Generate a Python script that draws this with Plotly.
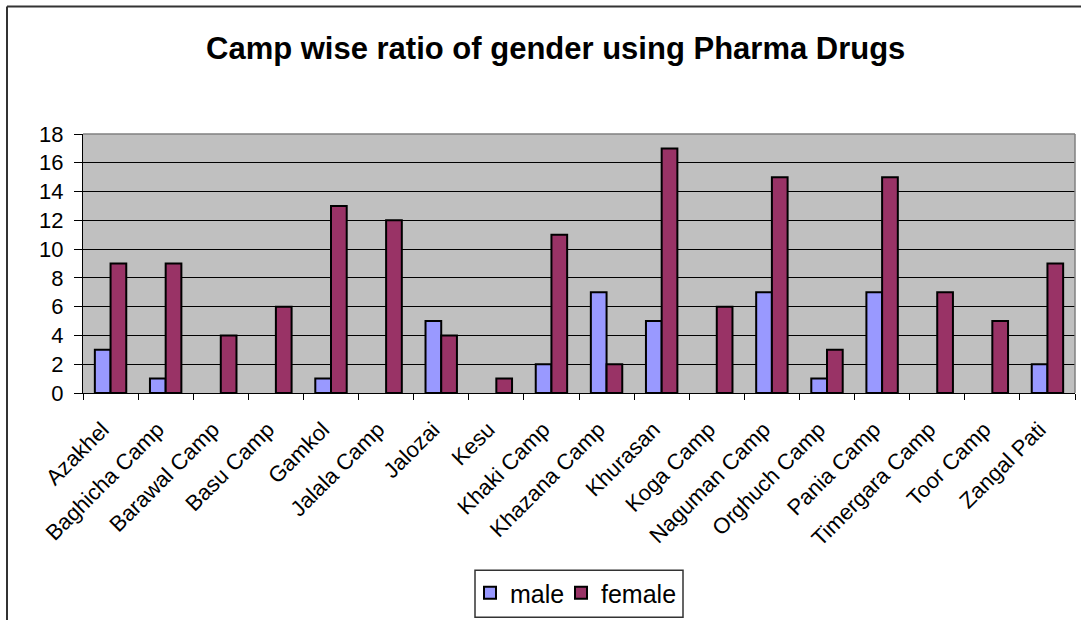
import plotly.graph_objects as go

# Camp-wise counts of pharma drug users by gender
camps = ["Azakhel", "Baghicha Camp", "Barawal Camp", "Basu Camp", "Gamkol",
         "Jalala Camp", "Jalozai", "Kesu", "Khaki Camp", "Khazana Camp",
         "Khurasan", "Koga Camp", "Naguman Camp", "Orghuch Camp", "Pania Camp",
         "Timergara Camp", "Toor Camp", "Zangal Pati"]
male = [3, 1, 0, 0, 1, 0, 5, 0, 2, 7, 5, 0, 7, 1, 7, 0, 0, 2]
female = [9, 9, 4, 6, 13, 12, 4, 1, 11, 2, 17, 6, 15, 3, 15, 7, 5, 9]
y_ticks = list(range(0, 19, 2))

FONT = "Arial, Liberation Sans, sans-serif"

# plot-area geometry in pixels
W, H = 1081, 620
L, R, T, B = 83, 1075, 134, 394
PW, PH = R - L, B - T


def px(x):
    return (x - L) / PW


def py(y):
    return (B - y) / PH


def outline(vals):
    # no outline for empty bars so nothing shows on the baseline
    return [2 if v else 0 for v in vals]


fig = go.Figure()
fig.add_trace(go.Bar(x=camps, y=male, name="male", legend="legend",
                     marker=dict(color="#9999FF",
                                 line=dict(color="black", width=outline(male)))))
fig.add_trace(go.Bar(x=camps, y=female, name="female", legend="legend2",
                     marker=dict(color="#993366",
                                 line=dict(color="black", width=outline(female)))))

# one legend entry per series, placed side by side inside a shared box
legend_style = dict(orientation="h", xanchor="left", yanchor="middle",
                    y=py(593), borderwidth=0, bgcolor="rgba(0,0,0,0)",
                    font=dict(size=25, family=FONT), itemwidth=30)

fig.update_layout(
    width=W, height=H,
    margin=dict(l=L, r=W - R, t=T, b=H - B, pad=0),
    paper_bgcolor="white",
    plot_bgcolor="#C0C0C0",
    barmode="group",
    bargap=0.43,
    bargroupgap=0,
    font=dict(family=FONT, color="black"),
    showlegend=True,
    legend=dict(legend_style, x=px(470)),
    legend2=dict(legend_style, x=px(561)),
    xaxis=dict(
        type="category",
        range=[-0.5, len(camps) - 0.5],
        tickangle=-45,
        tickfont=dict(size=22, family=FONT),
        ticks="outside", ticklen=6, tickcolor="black",
        tickson="boundaries",
        ticklabelstandoff=14,
        ticklabelshift=-8,
        showline=True, linecolor="black", linewidth=1,
        showgrid=False, fixedrange=True,
    ),
    yaxis=dict(
        range=[0, 18],
        tickvals=y_ticks,
        tickfont=dict(size=22, family=FONT),
        ticks="outside", ticklen=8, tickcolor="black",
        ticklabelstandoff=6,
        showline=True, linecolor="black", linewidth=1,
        showgrid=True, gridcolor="black", gridwidth=1,
        zeroline=False, fixedrange=True,
    ),
)

# title
fig.add_annotation(
    text="<b>Camp wise ratio of gender using Pharma Drugs</b>",
    xref="paper", yref="paper", x=px(555), y=py(48),
    xanchor="center", yanchor="middle", showarrow=False,
    font=dict(size=31, family=FONT, color="black"),
)

shapes = [
    # plot-area border on top and right
    dict(type="line", xref="paper", yref="paper", x0=0, x1=1, y0=1, y1=1,
         line=dict(color="#808080", width=1.5)),
    dict(type="line", xref="paper", yref="paper", x0=1, x1=1, y0=0, y1=1,
         line=dict(color="#808080", width=1.5)),
    # legend box
    dict(type="rect", xref="paper", yref="paper", x0=px(475), x1=px(683),
         y0=py(619), y1=py(572), line=dict(color="#333333", width=1.5),
         fillcolor="white", layer="below"),
    # outer chart frame
    dict(type="line", xref="paper", yref="paper", x0=px(7), x1=px(7),
         y0=py(6), y1=py(640), line=dict(color="#333333", width=2)),
    dict(type="line", xref="paper", yref="paper", x0=px(7), x1=px(1100),
         y0=py(6), y1=py(6), line=dict(color="#333333", width=2)),
]
fig.update_layout(shapes=shapes)

fig.write_html("out.html", config={"displayModeBar": False})
